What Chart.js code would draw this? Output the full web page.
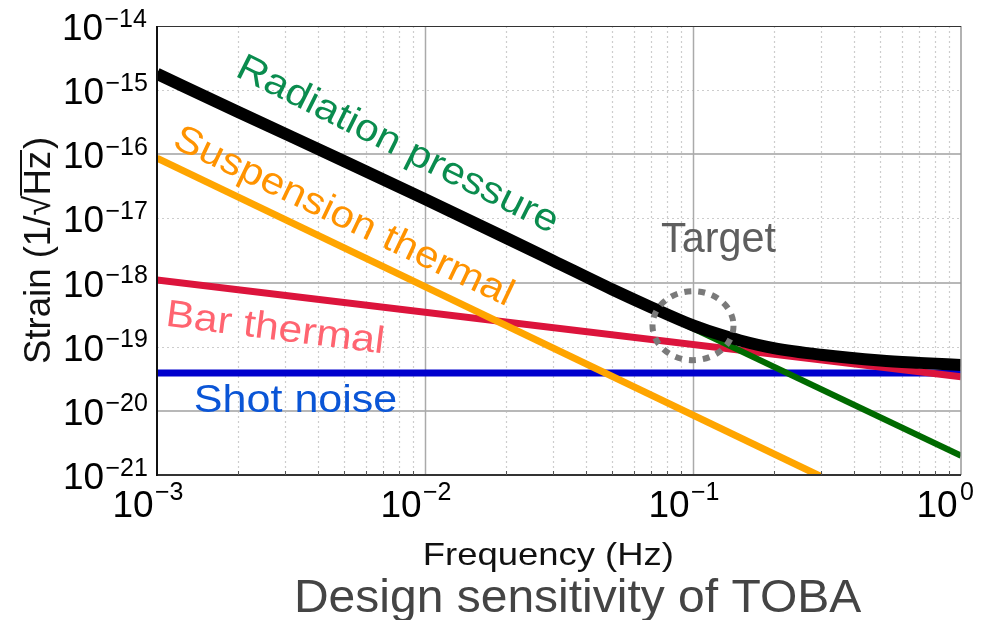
<!DOCTYPE html>
<html><head><meta charset="utf-8">
<script src="https://cdn.jsdelivr.net/npm/chart.js@4.4.1/dist/chart.umd.min.js"></script>
<style>html,body{margin:0;padding:0;background:#fff;}canvas{display:block;}</style>
</head><body>
<canvas id="c" width="988" height="620"></canvas>
<script>
// ---- data ----
const freqTotal   = [0.001, 0.002, 0.005, 0.01, 0.02, 0.03, 0.05, 0.07, 0.1, 0.12, 0.15, 0.2, 0.3, 0.5, 0.7, 1];
const strainTotal = [1.8e-15, 4.6e-16, 7.8e-17, 2.0e-17, 5.0e-18, 2.2e-18, 7.8e-19, 4.1e-19, 2.15e-19, 1.65e-19, 1.25e-19, 9.5e-20, 7.5e-20, 6.1e-20, 5.6e-20, 5.2e-20];
const freqRadiation   = [0.001, 1];
const strainRadiation = [1.8e-15, 2.0e-21];
const freqSuspension   = [0.001, 0.3];
const strainSuspension = [8.7e-17, 9.5e-22];
const freqBar   = [0.001, 1];
const strainBar = [1.1e-18, 3.4e-20];
const freqShot   = [0.001, 1];
const strainShot = [3.9e-20, 3.9e-20];
const xTickExponents = [-3, -2, -1, 0];
const yTickExponents = [-14, -15, -16, -17, -18, -19, -20, -21];
const targetFreq = 0.1, targetStrain = 2.13e-19;
const seriesNames = ['Total', 'Suspension thermal', 'Radiation pressure', 'Bar thermal', 'Shot noise'];

const pts = (xs, ys) => xs.map((x, i) => ({x, y: ys[i]}));
const FONT = '"Liberation Sans", Arial, Helvetica, sans-serif';

function fitText(ctx, text, o) {
  ctx.save();
  ctx.font = `${o.size}px ${FONT}`;
  ctx.fillStyle = o.color;
  ctx.textAlign = 'left';
  ctx.textBaseline = 'alphabetic';
  const m = ctx.measureText(text);
  const ink = m.actualBoundingBoxLeft + m.actualBoundingBoxRight;
  const sx = o.width ? o.width / ink : 1;
  ctx.translate(o.x, o.y);
  ctx.rotate((o.angle || 0) * Math.PI / 180);
  ctx.scale(sx, 1);
  ctx.fillText(text, m.actualBoundingBoxLeft, 0);
  ctx.restore();
}
function inkW(ctx, text, size) {
  ctx.font = `${size}px ${FONT}`;
  const m = ctx.measureText(text);
  return {w: m.actualBoundingBoxLeft + m.actualBoundingBoxRight, l: m.actualBoundingBoxLeft, m};
}
function supText(e) { return e < 0 ? '\u2212' + Math.abs(e) : String(e); }

const decor = {
  id: 'decor',
  beforeDraw(chart) {
    const c = chart.ctx;
    c.save(); c.fillStyle = '#fff'; c.fillRect(0, 0, chart.width, chart.height); c.restore();
  },
  beforeDatasetsDraw(chart) {
    const c = chart.ctx, a = chart.chartArea, xs = chart.scales.x, ys = chart.scales.y;
    c.save();
    c.strokeStyle = '#cdcdcd'; c.lineWidth = 1.2; c.setLineDash([2, 3]);
    for (let e = -3; e < 0; e++) for (let k = 2; k <= 9; k++) {
      const px = Math.round(xs.getPixelForValue(k * Math.pow(10, e))) + 0.5;
      c.beginPath(); c.moveTo(px, a.top); c.lineTo(px, a.bottom); c.stroke();
    }
    yTickExponents.forEach(e => {
      if (e === -14 || e === -21) return;
      if (Math.abs(e) % 2 === 1) {
        const py = Math.round(ys.getPixelForValue(Math.pow(10, e))) + 0.5;
        c.beginPath(); c.moveTo(a.left, py); c.lineTo(a.right, py); c.stroke();
      }
    });
    c.setLineDash([]);
    c.strokeStyle = '#b8b8b8'; c.lineWidth = 2;
    yTickExponents.forEach(e => {
      if (e === -14 || e === -21) return;
      if (Math.abs(e) % 2 === 0) {
        const py = Math.round(ys.getPixelForValue(Math.pow(10, e)));
        c.beginPath(); c.moveTo(a.left, py); c.lineTo(a.right, py); c.stroke();
      }
    });
    c.strokeStyle = '#aaaaaa'; c.lineWidth = 1.5;
    xTickExponents.forEach(e => {
      if (e === -3 || e === 0) return;
      const px = Math.round(xs.getPixelForValue(Math.pow(10, e))) + 0.5;
      c.beginPath(); c.moveTo(px, a.top); c.lineTo(px, a.bottom); c.stroke();
    });
    c.restore();
  },
  afterDatasetsDraw(chart) {
    const c = chart.ctx, a = chart.chartArea, xs = chart.scales.x, ys = chart.scales.y;
    c.save();
    c.strokeStyle = '#999'; c.lineWidth = 1.5;
    c.beginPath(); c.moveTo(a.right, a.top); c.lineTo(a.right, a.bottom); c.stroke();
    c.strokeStyle = '#333'; c.lineWidth = 1.2;
    c.beginPath(); c.moveTo(a.left, a.top + 0.5); c.lineTo(a.right, a.top + 0.5); c.stroke();
    c.strokeStyle = '#333'; c.lineWidth = 2;
    c.beginPath(); c.moveTo(a.left, a.bottom); c.lineTo(a.right, a.bottom); c.stroke();
    c.strokeStyle = '#111'; c.lineWidth = 2;
    c.beginPath(); c.moveTo(a.left, a.top); c.lineTo(a.left, a.bottom + 1); c.stroke();
    c.strokeStyle = '#555'; c.lineWidth = 1;
    for (let e = -3; e < 0; e++) for (let k = 2; k <= 9; k++) {
      const px = Math.round(xs.getPixelForValue(k * Math.pow(10, e))) + 0.5;
      c.beginPath(); c.moveTo(px, a.bottom); c.lineTo(px, a.bottom - 4); c.stroke();
    }
    const tx = xs.getPixelForValue(targetFreq), ty = ys.getPixelForValue(targetStrain);
    c.strokeStyle = '#7a7a7a'; c.lineWidth = 6; c.setLineDash([7, 7]);
    c.beginPath(); c.ellipse(tx, ty, 40.5, 34.5, 0, 0, Math.PI * 2); c.stroke();
    c.setLineDash([]);
    c.restore();

    fitText(c, 'Radiation pressure', {x: 237, y: 77, width: 350, size: 38, color: '#0a8c4e', angle: 26.5});
    fitText(c, 'Suspension thermal', {x: 172, y: 147, width: 368, size: 38, color: '#ff9300', angle: 25.5});
    fitText(c, 'Bar thermal', {x: 168, y: 326, width: 214, size: 38, color: '#ff6470', angle: 7.3});
    fitText(c, 'Shot noise', {x: 195, y: 412, width: 201, size: 38, color: '#0a55d6'});
    fitText(c, 'Target', {x: 661, y: 252, width: 115, size: 43, color: '#5e5e5e'});

    yTickExponents.forEach(e => {
      const py = ys.getPixelForValue(Math.pow(10, e));
      const s = supText(e);
      const si = inkW(c, s, 25);
      const supLeft = a.left - 10 - si.w;
      fitText(c, s, {x: supLeft, y: py + 0.5, size: 25, color: '#000'});
      const bi = inkW(c, '10', 37);
      fitText(c, '10', {x: supLeft - 3 - bi.w, y: py + 14, size: 37, color: '#000'});
    });
    xTickExponents.forEach(e => {
      const px = xs.getPixelForValue(Math.pow(10, e));
      const bi = inkW(c, '10', 37);
      const baseRight = px - 4;
      fitText(c, '10', {x: baseRight - bi.w, y: 517, size: 37, color: '#000'});
      fitText(c, supText(e), {x: baseRight + 3, y: 500, size: 25, color: '#000'});
    });

    fitText(c, 'Frequency (Hz)', {x: 425, y: 565, width: 247, size: 32, color: '#111'});
    c.save();
    const ys0 = 37;
    c.font = `${ys0}px ${FONT}`;
    const p1 = 'Strain (1/', p2 = '\u221A', p3 = 'Hz', p4 = ')';
    const w1 = c.measureText(p1).width, w2 = c.measureText(p2).width, w3 = c.measureText(p3).width;
    const full = c.measureText(p1 + p2 + p3 + p4);
    const inkLen = full.actualBoundingBoxLeft + full.actualBoundingBoxRight;
    const sc = 223 / inkLen;
    const mSq = c.measureText(p2);
    c.translate(50, 363);
    c.rotate(-Math.PI / 2);
    c.scale(sc, 1);
    c.fillStyle = '#111';
    c.textBaseline = 'alphabetic';
    c.fillText(p1, full.actualBoundingBoxLeft, 0);
    c.fillText(p2, full.actualBoundingBoxLeft + w1, 0);
    c.fillText(p3, full.actualBoundingBoxLeft + w1 + w2, 0);
    c.fillText(p4, full.actualBoundingBoxLeft + w1 + w2 + w3 + 2, 0);
    c.strokeStyle = '#111'; c.lineWidth = 2;
    const oy = -mSq.actualBoundingBoxAscent + 1;
    c.beginPath();
    c.moveTo(full.actualBoundingBoxLeft + w1 + mSq.actualBoundingBoxRight - 1, oy);
    c.lineTo(full.actualBoundingBoxLeft + w1 + w2 + w3 + 1, oy);
    c.stroke();
    c.restore();

    fitText(c, 'Design sensitivity of TOBA', {x: 297, y: 612, width: 565, size: 47, color: '#444'});
  }
};

new Chart(document.getElementById('c'), {
  type: 'line',
  data: {
    datasets: [
      {label: seriesNames[0], data: pts(freqTotal, strainTotal), borderColor: '#000', borderWidth: 12, order: 0, cubicInterpolationMode: 'monotone'},
      {label: seriesNames[1], data: pts(freqSuspension, strainSuspension), borderColor: '#ffa500', borderWidth: 7, order: 1},
      {label: seriesNames[2], data: pts(freqRadiation, strainRadiation), borderColor: '#006a00', borderWidth: 6, order: 2},
      {label: seriesNames[3], data: pts(freqBar, strainBar), borderColor: '#dc143c', borderWidth: 7, order: 3},
      {label: seriesNames[4], data: pts(freqShot, strainShot), borderColor: '#0000cd', borderWidth: 7, order: 4}
    ].map(d => Object.assign(d, {fill: false, pointRadius: 0, clip: 0, borderJoinStyle: 'round', borderCapStyle: 'butt'}))
  },
  options: {
    responsive: false,
    animation: false,
    events: [],
    layout: {padding: {left: 157, right: 27, top: 26, bottom: 145}},
    plugins: {legend: {display: false}, tooltip: {enabled: false}, title: {display: false}},
    scales: {
      x: {type: 'logarithmic', min: 1e-3, max: 1, display: false},
      y: {type: 'logarithmic', min: 1e-21, max: 1e-14, display: false}
    }
  },
  plugins: [decor]
});
</script>
</body></html>
